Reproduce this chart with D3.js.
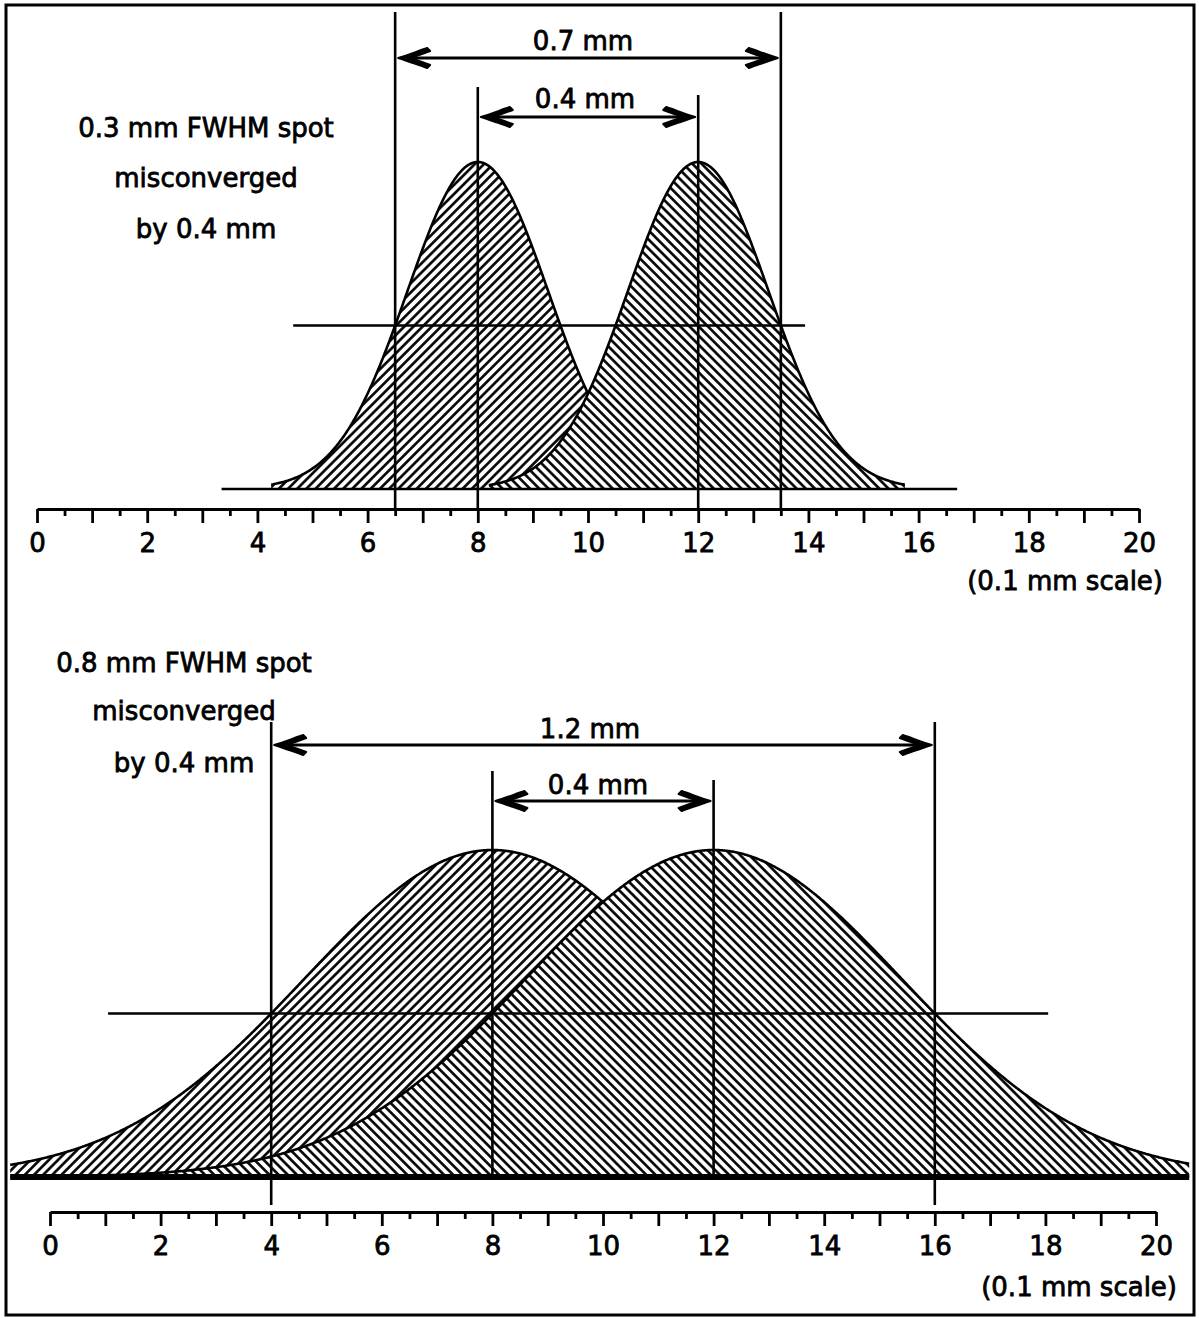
<!DOCTYPE html>
<html>
<head>
<meta charset="utf-8">
<script src="https://cdn.jsdelivr.net/npm/d3@7"></script>
<style>
  html, body { margin: 0; padding: 0; background: #fff; }
  svg { display: block; }
  text { font-family: "DejaVu Sans", "Liberation Sans", sans-serif; fill: #000; stroke: #000; stroke-width: 0.8px; }
</style>
</head>
<body>
<svg id="chart" width="1199" height="1318"></svg>
<script>
// Spot centres, in units of 0.1 mm (misconvergence of 0.4 mm)
const spotCenters = [8, 12];
// Spot FWHM per panel, 0.1 mm units (0.3 mm and 0.8 mm)
const panelFwhm = [3, 8];
// Outer half-maximum crossings per panel
const fwhmMarks = [[6.5, 13.5], [4, 16]];
const spanLabels = ["0.7 mm", "1.2 mm"];
const offsetLabels = ["0.4 mm", "0.4 mm"];
const captionLines = [
  ["0.3 mm FWHM spot", "misconverged", "by 0.4 mm"],
  ["0.8 mm FWHM spot", "misconverged", "by 0.4 mm"]
];
const tickLabels = [0, 2, 4, 6, 8, 10, 12, 14, 16, 18, 20];
const scaleNote = "(0.1 mm scale)";

// Drawing layout for the two panels
const layout = [
  {
    px: [37, 1139], base: 489, peak: 162, axisY: 509,
    curveExtent: [[4.25, 12.0], [8.2, 15.75]],
    baseLine: [3.35, 16.7], baseWidth: 2.5,
    halfLine: [4.65, 13.94],
    outerTop: 12, centerTops: [87, 95], outerBottom: 509, centerBottom: 509,
    spanY: 58, offsetY: 117, spanTextY: 50, offsetTextY: 108,
    spanTextX: 583, offsetTextX: 585,
    captionX: 206, captionY: [137, 187, 238],
    noteX: 1163, noteY: 590
  },
  {
    px: [50, 1156], base: 1177, peak: 850, axisY: 1212,
    curveExtent: [[-0.72, 20.6], [-0.72, 20.6]],
    baseLine: [-0.72, 20.6], baseWidth: 6,
    halfLine: [1.05, 18.05],
    outerTop: 722, centerTops: [771, 780], outerBottom: 1205, centerBottom: 1177,
    spanY: 745, offsetY: 801, spanTextY: 738, offsetTextY: 794,
    spanTextX: 590, offsetTextX: 598,
    captionX: 184, captionY: [672, 720, 772],
    noteX: 1177, noteY: 1296
  }
];

const svg = d3.select("#chart");
const defs = svg.append("defs");

// Diagonal hatching: "/" for the left spot, "\" for the right spot
const HATCH = 6.5;
function hatch(id, angle) {
  const p = defs.append("pattern")
    .attr("id", id)
    .attr("patternUnits", "userSpaceOnUse")
    .attr("width", HATCH).attr("height", HATCH)
    .attr("patternTransform", `rotate(${angle})`);
  p.append("rect").attr("width", HATCH).attr("height", HATCH).attr("fill", "#fff");
  p.append("line").attr("x1", HATCH / 2).attr("y1", -1).attr("x2", HATCH / 2).attr("y2", HATCH + 1)
    .attr("stroke", "#000").attr("stroke-width", 2.6);
}
hatch("hatchL", 45);
hatch("hatchR", -45);

// Outer frame
svg.append("rect")
  .attr("x", 6).attr("y", 5).attr("width", 1188).attr("height", 1310)
  .attr("fill", "none").attr("stroke", "#000").attr("stroke-width", 3);

function gauss(x, c, fwhm) {
  return Math.exp(-4 * Math.LN2 * (x - c) * (x - c) / (fwhm * fwhm));
}

function arrowHead(g, x, y, dir) {
  // dir = -1 points left, +1 points right
  const s = dir < 0 ? 1 : -1;
  const p = `M0,0 C${10*s},-3 ${20*s},-7 ${29*s},-10 L${32*s},-7 C${24*s},-4 ${16*s},-1 ${11*s},0 ` +
            `C${16*s},1 ${24*s},4 ${32*s},7 L${29*s},10 C${20*s},7 ${10*s},3 0,0 Z`;
  g.append("path").attr("d", p).attr("transform", `translate(${x},${y})`)
    .attr("fill", "#000").attr("stroke", "#000").attr("stroke-width", 2)
    .attr("stroke-linejoin", "round");
}

function doubleArrow(g, x1, x2, y) {
  g.append("line").attr("x1", x1 + 4).attr("x2", x2 - 4).attr("y1", y).attr("y2", y)
    .attr("stroke", "#000").attr("stroke-width", 3);
  arrowHead(g, x1, y, -1);
  arrowHead(g, x2, y, 1);
}

layout.forEach((L, i) => {
  const g = svg.append("g");
  const x = d3.scaleLinear().domain([0, 20]).range(L.px);
  const y = d3.scaleLinear().domain([0, 1]).range([L.base, L.peak]);
  const fwhm = panelFwhm[i];

  // Spot profiles: left drawn first, right overlapping it
  spotCenters.forEach((c, k) => {
    const [a, b] = L.curveExtent[k];
    const pts = d3.range(a, b + 1e-9, 0.02).map(v => [v, gauss(v, c, fwhm)]);
    pts.push([b, gauss(b, c, fwhm)]);
    const area = d3.area().x(d => x(d[0])).y0(y(0)).y1(d => y(d[1]));
    const line = d3.line().x(d => x(d[0])).y(d => y(d[1]));
    g.append("path").attr("d", area(pts)).attr("fill", k === 0 ? "url(#hatchL)" : "url(#hatchR)");
    g.append("path").attr("d", line(pts)).attr("fill", "none")
      .attr("stroke", "#000").attr("stroke-width", 2.6).attr("stroke-linejoin", "round");
  });

  // Baseline
  g.append("line")
    .attr("x1", x(L.baseLine[0])).attr("x2", x(L.baseLine[1]))
    .attr("y1", y(0)).attr("y2", y(0))
    .attr("stroke", "#000").attr("stroke-width", L.baseWidth);

  // Half-maximum line
  g.append("line")
    .attr("x1", x(L.halfLine[0])).attr("x2", x(L.halfLine[1]))
    .attr("y1", y(0.5)).attr("y2", y(0.5))
    .attr("stroke", "#000").attr("stroke-width", 2.4);

  // Vertical markers at the half-maximum extremes and at the spot centres
  fwhmMarks[i].forEach(v => {
    g.append("line").attr("x1", x(v)).attr("x2", x(v))
      .attr("y1", L.outerTop).attr("y2", L.outerBottom)
      .attr("stroke", "#000").attr("stroke-width", 2.6);
  });
  spotCenters.forEach((c, k) => {
    g.append("line").attr("x1", x(c)).attr("x2", x(c))
      .attr("y1", L.centerTops[k]).attr("y2", L.centerBottom)
      .attr("stroke", "#000").attr("stroke-width", 2.6);
  });

  // Dimension arrows
  doubleArrow(g, x(fwhmMarks[i][0]) + 3, x(fwhmMarks[i][1]) - 3, L.spanY);
  doubleArrow(g, x(spotCenters[0]) + 3, x(spotCenters[1]) - 3, L.offsetY);
  g.append("text").attr("x", L.spanTextX).attr("y", L.spanTextY)
    .attr("text-anchor", "middle").attr("font-size", 26).text(spanLabels[i]);
  g.append("text").attr("x", L.offsetTextX).attr("y", L.offsetTextY)
    .attr("text-anchor", "middle").attr("font-size", 26).text(offsetLabels[i]);

  // Caption
  captionLines[i].forEach((t, j) => {
    g.append("text").attr("x", L.captionX).attr("y", L.captionY[j])
      .attr("text-anchor", "middle").attr("font-size", 26).text(t);
  });

  // Scale axis: long ticks on whole units, short ticks on halves
  const axis = d3.axisBottom(x)
    .tickValues(d3.range(0, 20.0001, 0.5))
    .tickSizeOuter(0)
    .tickFormat(d => tickLabels.includes(d) ? String(d) : "");
  const ax = g.append("g").attr("transform", `translate(0,${L.axisY})`).call(axis);
  ax.select(".domain").attr("stroke", "#000").attr("stroke-width", 3);
  ax.selectAll(".tick line")
    .attr("y2", d => Number.isInteger(d) ? 14 : 7)
    .attr("stroke", "#000").attr("stroke-width", 2.8);
  ax.selectAll(".tick text")
    .attr("y", 43).attr("dy", null)
    .attr("font-size", 26)
    .style("fill", "#000");
  ax.attr("font-family", null).attr("font-size", null);

  g.append("text").attr("x", L.noteX).attr("y", L.noteY)
    .attr("text-anchor", "end").attr("font-size", 26).text(scaleNote);
});
</script>
</body>
</html>
